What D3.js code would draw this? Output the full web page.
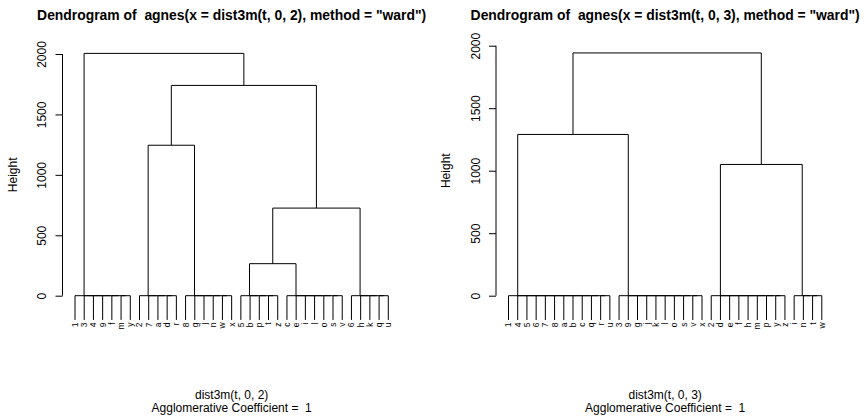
<!DOCTYPE html>
<html>
<head>
<meta charset="utf-8">
<script src="https://cdn.jsdelivr.net/npm/d3@7"></script>
<style>
  html, body { margin: 0; padding: 0; background: #fff; }
  svg { display: block; font-family: "Liberation Sans", Arial, Helvetica, sans-serif; }
  svg text { white-space: pre; }
</style>
</head>
<body>
<svg id="chart" width="867" height="418"></svg>
<script>
// ---- Panel 1: agnes(dist3m(t, 0, 2), method = "ward") ----
const leaves1 = ["1","3","4","9","f","m","y","2","7","a","d","r","8","g","j","n","w","x",
                 "5","b","p","t","z","c","e","i","l","o","s","v","6","h","k","q","u"];
// tight groups (merged at height ~0)
const groups1 = [
  ["1","3","4","9","f","m","y"],
  ["2","7","a","d","r"],
  ["8","g","j","n","w","x"],
  ["5","b","p","t","z"],
  ["c","e","i","l","o","s","v"],
  ["6","h","k","q","u"]
];
const groupHeight1 = 0;
// joins: [node a, node b, height]; nodes 0..5 are the groups, each join appends a new node
const joins1 = [
  [3, 4, 265],
  [6, 5, 725],
  [1, 2, 1245],
  [8, 7, 1740],
  [0, 9, 2005]
];

// ---- Panel 2: agnes(dist3m(t, 0, 3), method = "ward") ----
const leaves2 = ["1","4","5","6","7","8","a","b","c","q","r","u","3","9","g","j","k","l",
                 "o","s","v","x","2","d","e","f","h","m","p","y","z","i","n","t","w"];
const groups2 = [
  ["1","4","5","6","7","8","a","b","c","q","r","u"],
  ["3","9","g","j","k","l","o","s","v","x"],
  ["2","d","e","f","h","m","p","y","z"],
  ["i","n","t","w"]
];
const groupHeight2 = 0;
const joins2 = [
  [0, 1, 1290],
  [2, 3, 1050],
  [4, 5, 1942]
];

const yTicks = [0, 500, 1000, 1500, 2000];

const panels = [
  { leaves: leaves1, groups: groups1, groupHeight: groupHeight1, joins: joins1,
    title: 'Dendrogram of  agnes(x = dist3m(t, 0, 2), method = "ward")',
    xlab: "dist3m(t, 0, 2)", sub: "Agglomerative Coefficient =  1",
    offset: 0, yTop: 54.0 },
  { leaves: leaves2, groups: groups2, groupHeight: groupHeight2, joins: joins2,
    title: 'Dendrogram of  agnes(x = dist3m(t, 0, 3), method = "ward")',
    xlab: "dist3m(t, 0, 3)", sub: "Agglomerative Coefficient =  1",
    offset: 433.5, yTop: 45.7 }
];

const svg = d3.select("#chart");

// a tight group is a chain: first leaf joined with the rest
function chain(labels, h) {
  if (labels.length === 1) return { label: labels[0] };
  return { left: { label: labels[0] }, right: chain(labels.slice(1), h), height: h };
}

function buildTree(p) {
  const nodes = p.groups.map(g => chain(g, p.groupHeight));
  p.joins.forEach(([a, b, h]) => nodes.push({ left: nodes[a], right: nodes[b], height: h }));
  return nodes[nodes.length - 1];
}

panels.forEach(p => {
  const g = svg.append("g").attr("transform", `translate(${p.offset},0)`);
  const root = buildTree(p);

  const x = d3.scalePoint().domain(p.leaves).range([75, 388.3]);
  const y = d3.scaleLinear().domain([0, 2000]).range([295.7, p.yTop]);
  const hang = 0.1 * root.height;

  function place(n) {
    if (n.label !== undefined) { n.x = x(n.label); return; }
    place(n.left); place(n.right);
    n.x = (n.left.x + n.right.x) / 2;
  }
  place(root);

  const segs = [];
  function walk(n) {
    if (n.label !== undefined) return;
    const hl = n.left.label !== undefined ? n.height - hang : n.left.height;
    const hr = n.right.label !== undefined ? n.height - hang : n.right.height;
    segs.push(`M${n.left.x},${y(hl)}V${y(n.height)}H${n.right.x}V${y(hr)}`);
    walk(n.left); walk(n.right);
  }
  walk(root);

  g.append("path")
    .attr("d", segs.join(""))
    .attr("fill", "none")
    .attr("stroke", "#000")
    .attr("stroke-width", 1);

  // leaf labels, vertical, hanging below the leaf tips
  const leafBottom = y(0 - hang);
  g.selectAll("text.leaf")
    .data(p.leaves)
    .join("text")
    .attr("class", "leaf")
    .attr("transform", d => `translate(${x(d)},${leafBottom + 2.5}) rotate(-90)`)
    .attr("text-anchor", "end")
    .attr("dy", "0.35em")
    .attr("font-size", 8.5)
    .text(d => d);

  // y axis
  const axisX = 62.5;
  const ax = g.append("g")
    .attr("transform", `translate(${axisX},0)`)
    .call(d3.axisLeft(y).tickValues(yTicks).tickSize(7).tickSizeOuter(0).tickFormat(d3.format("d")));
  ax.select(".domain").attr("d", `M0,${y(0)}V${y(2000)}`).attr("stroke", "#000");
  ax.selectAll(".tick line").attr("stroke", "#000");
  ax.selectAll(".tick text")
    .attr("transform", "rotate(-90)")
    .attr("x", 0)
    .attr("y", -16.5)
    .attr("dy", null)
    .attr("text-anchor", "middle")
    .attr("font-size", 12)
    .attr("font-family", null)
    .attr("fill", "#000");

  g.append("text")
    .attr("transform", `translate(16.5,${(y(0) + y(2000)) / 2}) rotate(-90)`)
    .attr("text-anchor", "middle")
    .attr("font-size", 12)
    .text("Height");

  const cx = (75 + 388.3) / 2;
  g.append("text")
    .attr("x", cx).attr("y", 19.5)
    .attr("text-anchor", "middle")
    .attr("font-size", 13.9)
    .attr("font-weight", "bold")
    .text(p.title);

  g.append("text")
    .attr("x", cx).attr("y", 399)
    .attr("text-anchor", "middle")
    .attr("font-size", 12)
    .text(p.xlab);

  g.append("text")
    .attr("x", cx).attr("y", 412)
    .attr("text-anchor", "middle")
    .attr("font-size", 12)
    .text(p.sub);
});
</script>
</body>
</html>
